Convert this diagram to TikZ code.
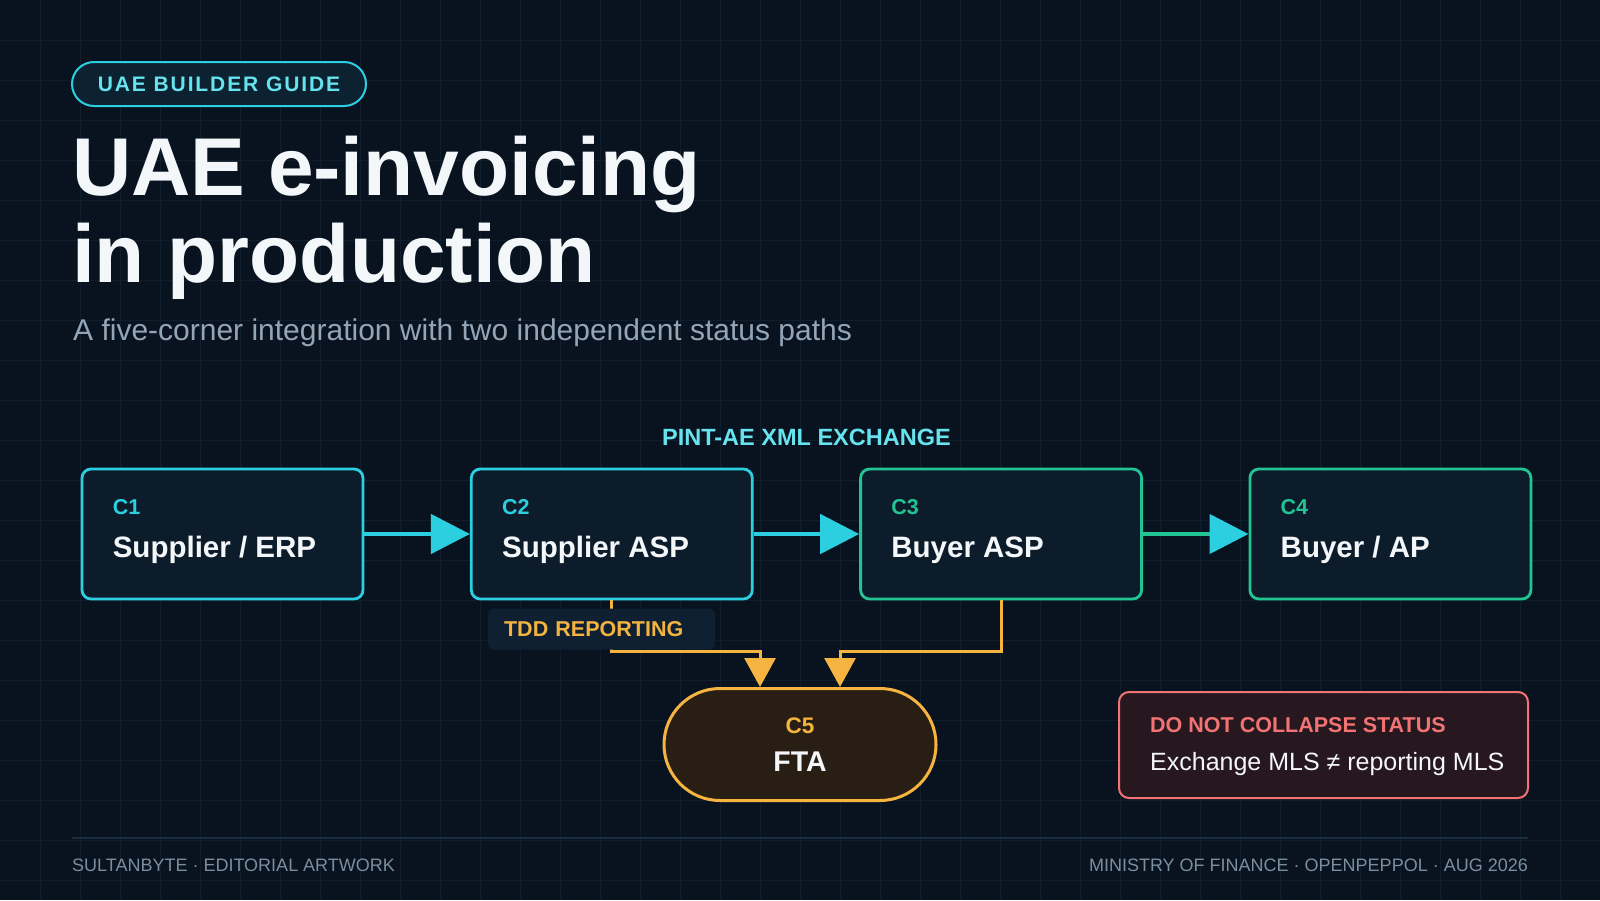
\documentclass[tikz,border=0pt]{standalone}
\usepackage{fontspec}
\setmainfont{Liberation Sans}
\newfontfamily\pillfont[LetterSpace=9]{Liberation Sans}
\usetikzlibrary{calc,arrows.meta,positioning}
\definecolor{bgColor}{HTML}{08131F}
\definecolor{gridColor}{HTML}{0E1E2D}
\definecolor{boxColor}{HTML}{0D1C2B}
\definecolor{cyanColor}{HTML}{2CCFE0}
\definecolor{greenColor}{HTML}{22C493}
\definecolor{lightCyan}{HTML}{66E3EE}
\definecolor{orangeColor}{HTML}{F5B340}
\definecolor{coralColor}{HTML}{F27373}
\definecolor{whiteText}{HTML}{F4F7FA}
\definecolor{subColor}{HTML}{93A5B7}
\definecolor{footColor}{HTML}{7B8E9F}
\definecolor{pillFill}{HTML}{0C2231}
\definecolor{ftaFill}{HTML}{281E14}
\definecolor{noteFill}{HTML}{271820}
\definecolor{tddFill}{HTML}{0E2031}
\definecolor{ruleColor}{HTML}{1A2D3E}
\newcommand{\titlefont}{\fontsize{82}{88}\selectfont\bfseries}
\newcommand{\subfont}{\fontsize{30}{34}\selectfont}
\newcommand{\guidefont}{\fontsize{21}{25}\selectfont\pillfont\bfseries}
\newcommand{\tagfont}{\fontsize{21.5}{25}\selectfont\bfseries}
\newcommand{\partyfont}{\fontsize{29.5}{34}\selectfont\bfseries}
\newcommand{\streamfont}{\fontsize{23.5}{27}\selectfont\bfseries}
\newcommand{\bodyfont}{\fontsize{25}{29}\selectfont}
\newcommand{\footfont}{\fontsize{18}{21}\selectfont}

\begin{document}
\begin{tikzpicture}[x=1pt, y=-1pt,
    corner/.style={draw, rounded corners=9pt, line width=2.8pt, fill=boxColor, minimum width=281pt, minimum height=130pt, inner sep=0pt},
    cornertag/.style={anchor=base west, inner sep=0pt, font=\tagfont},
    party/.style={anchor=base west, inner sep=0pt, font=\partyfont, text=whiteText},
    flow/.style={-{Triangle[length=39pt, width=39pt, color=cyanColor]}, line width=4.6pt, cyanColor},
    report/.style={-{Triangle[length=29pt, width=31pt]}, line width=3pt, orangeColor},
    plain/.style={inner sep=0pt},
    gridline/.style={gridColor, line width=1pt}
  ]
  \fill[bgColor] (0,0) rectangle (1600,900);
  \useasboundingbox (0,0) rectangle (1600,900);
  \foreach \gx in {40,80,...,1560} \draw[gridline] (\gx,0) -- (\gx,900);
  \foreach \gy in {40,80,...,880} \draw[gridline] (0,\gy) -- (1600,\gy);

  % header
  \node[draw=cyanColor, line width=2pt, fill=pillFill, rounded corners=22pt, minimum width=294pt, minimum height=44pt, inner sep=0pt, text=lightCyan, font=\guidefont] (guide) at (219,84) {UAE BUILDER GUIDE};
  \node[plain, anchor=base west, font=\titlefont, text=whiteText] (title) at (72,195) {UAE e-invoicing};
  \node[plain, anchor=base west, font=\titlefont, text=whiteText] (title2) at (72,282) {in production};
  \node[plain, anchor=base west, font=\subfont, text=subColor] (subtitle) at (73,340) {A five-corner integration with two independent status paths};

  % corners
  \node[corner, draw=cyanColor] (c1) at (222.5,534) {};
  \node[corner, draw=cyanColor, right=105.5pt of c1] (c2) {};
  \node[corner, draw=greenColor, right=105.5pt of c2] (c3) {};
  \node[corner, draw=greenColor, right=105.5pt of c3] (c4) {};

  \node[cornertag, text=cyanColor] (c1-tag) at ($(c1.north west)+(32,47)$) {C1};
  \node[party] (c1-name) at ($(c1.north west)+(32,90)$) {Supplier / ERP};
  \node[cornertag, text=cyanColor] (c2-tag) at ($(c2.north west)+(32,47)$) {C2};
  \node[party] (c2-name) at ($(c2.north west)+(32,90)$) {Supplier ASP};
  \node[cornertag, text=greenColor] (c3-tag) at ($(c3.north west)+(32,47)$) {C3};
  \node[party] (c3-name) at ($(c3.north west)+(32,90)$) {Buyer ASP};
  \node[cornertag, text=greenColor] (c4-tag) at ($(c4.north west)+(32,47)$) {C4};
  \node[party] (c4-name) at ($(c4.north west)+(32,90)$) {Buyer / AP};

  \node[plain, anchor=base, font=\streamfont, text=lightCyan] (xchg) at ($(c2.north east)!0.5!(c3.north west)+(0,-22)$) {PINT-AE XML EXCHANGE};

  \draw[flow] (c1) -- (c2);
  \draw[flow] (c2) -- (c3);
  \draw[flow, draw=greenColor] (c3) -- (c4);

  % reporting
  \node[draw=orangeColor, line width=3pt, fill=ftaFill, rounded corners=56pt, minimum width=272pt, minimum height=112pt] (fta) at (800,744.5) {};
  \node[plain, anchor=base, font=\fontsize{22.5}{26}\selectfont\bfseries, text=orangeColor] (c5-tag) at ($(fta.north)+(0,46)$) {C5};
  \node[plain, anchor=base, font=\fontsize{28.5}{33}\selectfont\bfseries, text=whiteText] (c5-name) at ($(fta.north)+(0,84)$) {FTA};
  \coordinate (fta-in1) at ($(fta.north)+(-40,0)$);
  \coordinate (fta-in2) at ($(fta.north)+(40,0)$);

  \draw[report] (c2.south) -- ++(0,51) -| (fta-in1);
  \draw[report] (c3.south) -- ++(0,51) -| (fta-in2);
  \node[fill=tddFill, rounded corners=6pt, anchor=north west, minimum width=227pt, minimum height=41pt, inner xsep=16pt, text width=195pt, font=\tagfont, text=orangeColor] (tdd) at ($(c2.south west)+(18,8)$) {TDD REPORTING};

  % warning
  \node[draw=coralColor, line width=2pt, fill=noteFill, rounded corners=10pt, minimum width=409pt, minimum height=106pt] (warn) at (1323.5,745) {};
  \node[cornertag, text=coralColor] (warn-head) at ($(warn.north west)+(32,41)$) {DO NOT COLLAPSE STATUS};
  \node[plain, anchor=base west, font=\bodyfont, text=whiteText] (warn-body) at ($(warn.north west)+(32,79)$) {Exchange MLS ≠ reporting MLS};

  % footer
  \draw[ruleColor, line width=1.2pt] (72,838) -- (1528,838);
  \node[plain, anchor=base west, font=\footfont, text=footColor] (credit) at (72,871) {SULTANBYTE · EDITORIAL ARTWORK};
  \node[plain, anchor=base east, font=\footfont, text=footColor] (sources) at (1528,871) {MINISTRY OF FINANCE · OPENPEPPOL · AUG 2026};
\end{tikzpicture}
\end{document}
